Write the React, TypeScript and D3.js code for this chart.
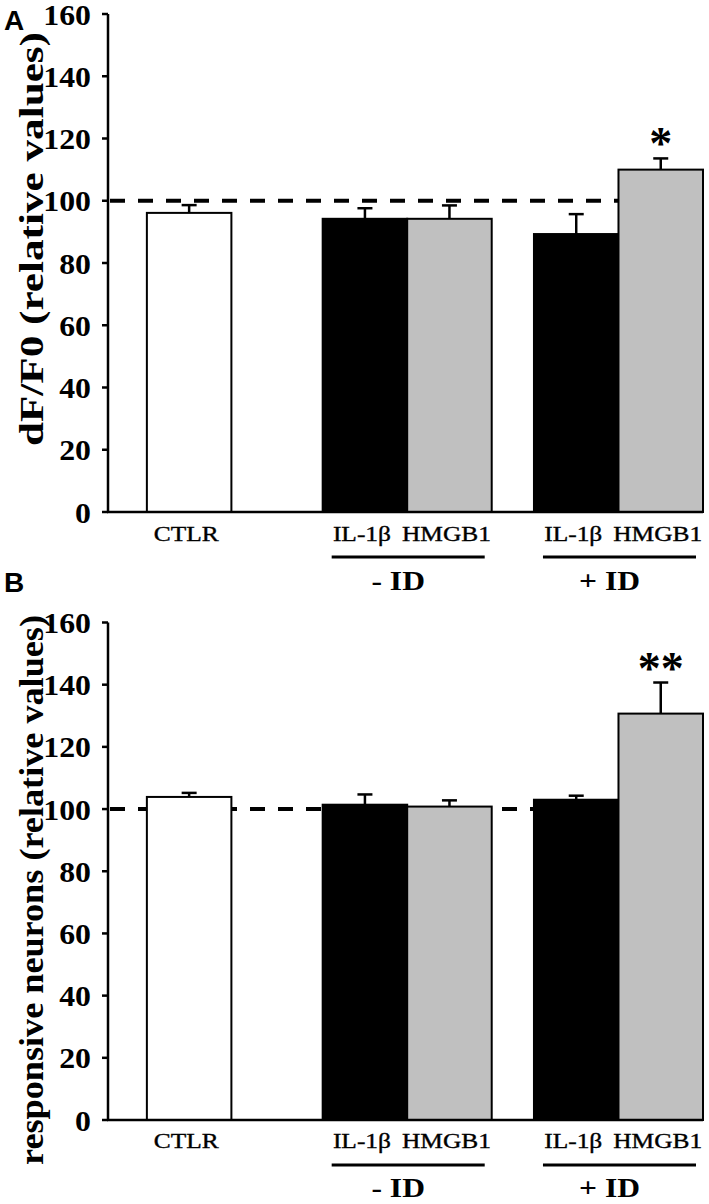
import React from "react";
import * as d3 from "d3";

const categories = ["CTLR", "IL-1β", "HMGB1", "IL-1β", "HMGB1"];
const groups = ["", "- ID", "- ID", "+ ID", "+ ID"];
const kinds = ["control", "il1b", "hmgb1", "il1b", "hmgb1"];

const valuesA = [96.1, 94.2, 94.2, 89.3, 110.0];
const errorsA = [2.5, 3.4, 4.3, 6.4, 3.6];
const starsA = ["", "", "", "", "*"];

const valuesB = [103.9, 101.4, 100.8, 103.0, 130.7];
const errorsB = [1.3, 3.3, 2.0, 1.3, 10.0];
const starsB = ["", "", "", "", "**"];

const yTicks = [0, 20, 40, 60, 80, 100, 120, 140, 160];
const referenceLevel = 100;

const W = 709;
const H = 1204;
const FILL: Record<string, string> = { control: "#ffffff", il1b: "#000000", hmgb1: "#c0c0c0" };

// slot index for each bar (gap after control, half gap between treatment groups)
const slots: number[] = (() => {
  const out: number[] = [];
  let s = 0;
  groups.forEach((g, i) => {
    if (i > 0 && g !== groups[i - 1]) s += groups[i - 1] === "" ? 1.08 : 0.5;
    out.push(s);
    if (i < groups.length - 1) s += 1;
  });
  return out;
})();
const lastSlot = slots[slots.length - 1] + 1;

const x = d3.scaleLinear().domain([-0.46, lastSlot]).range([108, 703]);
const bw = x(1) - x(0);

const serif = "'Liberation Serif', 'Times New Roman', serif";

function Panel({ letter, top0, y0, y160, values, errors, stars, ylabel, labelLen, labelCy, catY, lineY, grpY }: any) {
  const y = d3.scaleLinear().domain([0, 160]).range([y0, y160]);
  const groupNames = Array.from(new Set(groups.filter((g) => g !== "")));
  return (
    <g>
      <text x={4} y={top0} fontFamily="'Liberation Sans', Arial, sans-serif" fontWeight="bold" fontSize={28}>{letter}</text>
      <text
        transform={`translate(43,${labelCy}) rotate(-90)`}
        textAnchor="middle"
        fontFamily={serif}
        fontWeight="bold"
        fontSize={34}
        textLength={labelLen}
        lengthAdjust="spacingAndGlyphs"
      >{ylabel}</text>
      {/* reference dashed line */}
      <line x1={110} x2={x(lastSlot) - 2} y1={y(referenceLevel)} y2={y(referenceLevel)} stroke="#000" strokeWidth={4} strokeDasharray="15,13" />
      {/* bars */}
      {values.map((v: number, i: number) => (
        <g key={i}>
          <line x1={x(slots[i]) + bw / 2} x2={x(slots[i]) + bw / 2} y1={y(v)} y2={y(v + errors[i])} stroke="#000" strokeWidth={2.5} />
          <line x1={x(slots[i]) + bw / 2 - 7.5} x2={x(slots[i]) + bw / 2 + 7.5} y1={y(v + errors[i])} y2={y(v + errors[i])} stroke="#000" strokeWidth={2.5} />
          <rect x={x(slots[i])} y={y(v)} width={bw} height={y(0) - y(v)} fill={FILL[kinds[i]]} stroke="#000" strokeWidth={2} />
          {stars[i] && (
            <text x={x(slots[i]) + bw / 2} y={y(v + errors[i]) + 1} textAnchor="middle" fontFamily={serif} fontWeight="bold" fontSize={46}>{stars[i]}</text>
          )}
        </g>
      ))}
      {/* axes */}
      <line x1={108} x2={108} y1={y(160)} y2={y(0)} stroke="#000" strokeWidth={2.5} />
      <line x1={107} x2={x(lastSlot)} y1={y(0)} y2={y(0)} stroke="#000" strokeWidth={2.5} />
      {yTicks.map((t) => (
        <g key={t}>
          <line x1={102} x2={108} y1={y(t)} y2={y(t)} stroke="#000" strokeWidth={2.5} />
          <text transform={`translate(91,${y(t)}) scale(1.06,1)`} dy="0.35em" textAnchor="end" fontFamily={serif} fontWeight="bold" fontSize={30}>{t}</text>
        </g>
      ))}
      {/* category labels */}
      {categories.map((c, i) => (
        <text key={i} transform={`translate(${x(slots[i]) + bw / 2 - 3},${catY}) scale(1.27,1)`} textAnchor="middle" fontFamily={serif} fontSize={20} stroke="#000" strokeWidth={0.35}>{c}</text>
      ))}
      {groupNames.map((g) => {
        const idx = groups.map((gg, i) => (gg === g ? i : -1)).filter((i) => i >= 0);
        const x1 = x(slots[idx[0]]) + 9;
        const x2 = x(slots[idx[idx.length - 1]] + 1) - 7;
        return (
          <g key={g}>
            <line x1={x1} x2={x2} y1={lineY} y2={lineY} stroke="#000" strokeWidth={3} />
            <text transform={`translate(${(x1 + x2) / 2 - 10},${grpY}) scale(1.17,1)`} textAnchor="middle" fontFamily={serif} fontWeight="bold" fontSize={27}>{g}</text>
          </g>
        );
      })}
    </g>
  );
}

export default function App() {
  return (
    <svg width={W} height={H} style={{ position: "absolute", left: 0, top: 0, background: "#fff" }}>
      <rect width={W} height={H} fill="#fff" />
      <Panel
        letter="A"
        top0={30}
        y0={512}
        y160={14}
        values={valuesA}
        errors={errorsA}
        stars={starsA}
        ylabel="dF/F0 (relative values)"
        labelLen={414}
        labelCy={239}
        catY={541}
        lineY={557}
        grpY={590}
      />
      <Panel
        letter="B"
        top0={592}
        y0={1120}
        y160={622.5}
        values={valuesB}
        errors={errorsB}
        stars={starsB}
        ylabel="responsive neurons (relative values)"
        labelLen={550}
        labelCy={890}
        catY={1148}
        lineY={1165}
        grpY={1197}
      />
    </svg>
  );
}
